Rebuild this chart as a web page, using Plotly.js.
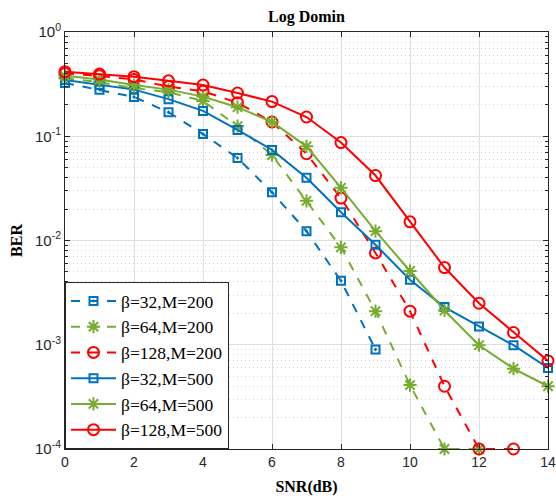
<!DOCTYPE html>
<html>
<head>
<meta charset="utf-8">
<script src="https://cdn.plot.ly/plotly-3.0.1.min.js"></script>
<style>html,body{margin:0;padding:0;background:#fff}#chart{width:556px;height:502px}</style>
</head>
<body>
<div id="chart"></div>
<script>
const snr = [0,1,2,3,4,5,6,7,8,9,10,11,12,13,14];

const names = ["β=32,M=200","β=64,M=200","β=128,M=200","β=32,M=500","β=64,M=500","β=128,M=500"];

const ber_b32_m200  = [0.324,0.28,0.238,0.17,0.105,0.062,0.029,0.0123,0.0041,0.0009];
const ber_b64_m200  = [0.36,0.33,0.29,0.265,0.218,0.125,0.066,0.024,0.0086,0.0021,0.00041,0.0001,0.0001];
const ber_b128_m200 = [0.40,0.38,0.35,0.30,0.27,0.21,0.137,0.068,0.0255,0.0076,0.0021,0.0004,0.0001,0.0001];
const ber_b32_m500  = [0.346,0.31,0.28,0.227,0.175,0.115,0.074,0.04,0.0187,0.0091,0.0042,0.0023,0.0015,0.00099,0.0006];
const ber_b64_m500  = [0.38,0.35,0.31,0.28,0.24,0.19,0.137,0.08,0.032,0.0123,0.0051,0.00213,0.00099,0.00059,0.0004];
const ber_b128_m500 = [0.416,0.395,0.373,0.34,0.31,0.26,0.215,0.153,0.087,0.042,0.0151,0.0055,0.0025,0.00131,0.0007];

const yTickVals = [1e-4,1e-3,1e-2,1e-1,1];
const yTickText = ["10<sup>-4</sup>","10<sup>-3</sup>","10<sup>-2</sup>","10<sup>-1</sup>","10<sup>0</sup>"];
const xTickVals = [0,2,4,6,8,10,12,14];

const minorVals = [];
for (let e = -4; e < 0; e++) for (let m = 2; m <= 9; m++) minorVals.push(m * Math.pow(10, e));

const blue = "#0072BD", green = "#77AC30", red = "#FF0000";

function tr(y, name, color, dash, sym, msize){
  return {
    x: snr.slice(0, y.length), y: y, name: name, type: "scatter", mode: "lines+markers",
    line: {color: color, width: 2, dash: dash},
    marker: {symbol: sym, size: msize, color: color, line: {width: 2, color: color}},
    cliponaxis: false
  };
}

const data = [
  tr(ber_b32_m200, names[0], blue, "dash", "square-open-dot", 8),
  tr(ber_b64_m200, names[1], green, "dash", "asterisk-open", 11),
  tr(ber_b128_m200, names[2], red, "dash", "circle-open", 11),
  tr(ber_b32_m500, names[3], blue, "solid", "square-open", 8),
  tr(ber_b64_m500, names[4], green, "solid", "asterisk-open", 11),
  tr(ber_b128_m500, names[5], red, "solid", "circle-open", 11)
];

const layout = {
  width: 556, height: 502,
  margin: {l: 65, r: 8, t: 32, b: 53},
  paper_bgcolor: "#fff", plot_bgcolor: "#fff",
  showlegend: true,
  title: {text: "<b>Log Domin</b>", x: 0.5, xref: "paper", y: 0.968, yanchor: "middle",
          font: {family: "Liberation Serif, Times New Roman, serif", size: 16, color: "#000"}},
  xaxis: {
    range: [0, 14], tickvals: xTickVals, ticks: "inside", ticklen: 5, tickcolor: "#262626",
    showline: true, linecolor: "#262626", linewidth: 1, mirror: "ticks",
    showgrid: true, gridcolor: "#dedede", gridwidth: 1, zeroline: false,
    tickfont: {family: "Liberation Sans, Arial, sans-serif", size: 14, color: "#262626"},
    title: {text: "<b>SNR(dB)</b>", standoff: 12,
            font: {family: "Liberation Serif, Times New Roman, serif", size: 16, color: "#000"}}
  },
  yaxis: {
    type: "log", range: [-4, 0], tickvals: yTickVals, ticktext: yTickText,
    ticks: "inside", ticklen: 5, tickcolor: "#262626",
    showline: true, linecolor: "#262626", linewidth: 1, mirror: "ticks",
    showgrid: true, gridcolor: "#dedede", gridwidth: 1, zeroline: false,
    tickfont: {family: "Liberation Sans, Arial, sans-serif", size: 15, color: "#262626"},
    minor: {tickmode: "array", tickvals: minorVals, ticks: "inside", ticklen: 3, tickcolor: "#262626",
            showgrid: true, gridcolor: "#d4d4d4", griddash: "1px,3px", gridwidth: 1},
    title: {text: "<b>BER</b>", standoff: 8,
            font: {family: "Liberation Serif, Times New Roman, serif", size: 16, color: "#000"}}
  },
  legend: {
    x: 0, y: 0, xanchor: "left", yanchor: "bottom", xref: "paper", yref: "paper",
    bgcolor: "#fff", bordercolor: "#262626", borderwidth: 1,
    itemwidth: 45, tracegroupgap: 0,
    font: {family: "Liberation Serif, Times New Roman, serif", size: 17.5, color: "#000"}
  }
};

Plotly.newPlot("chart", data, layout, {displayModeBar: false, staticPlot: true});
</script>
</body>
</html>
